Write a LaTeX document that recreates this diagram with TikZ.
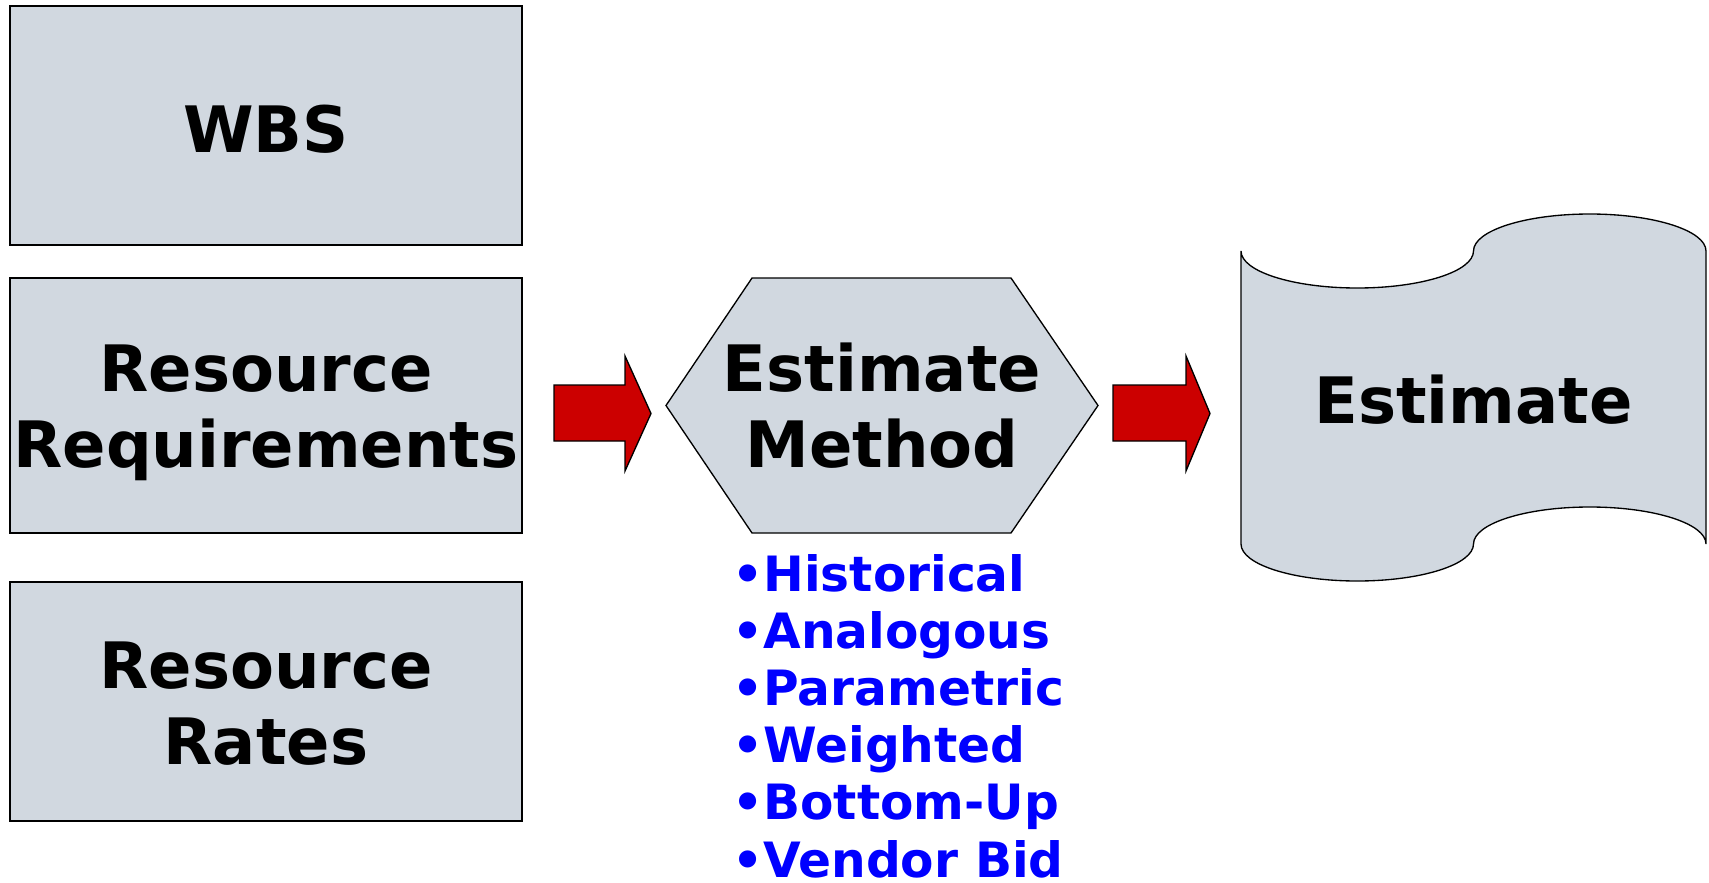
\documentclass[tikz,border=0pt]{standalone}
\usepackage{fontspec}
\setmainfont{DejaVu Sans}
\definecolor{panelfill}{RGB}{209,216,224}
\definecolor{arrowred}{RGB}{204,0,0}
\definecolor{listblue}{RGB}{0,0,255}
\tikzset{
  panel/.style={draw=black, line width=1.5pt, fill=panelfill, inner sep=0pt},
  shapeline/.style={draw=black, line width=1pt, fill=panelfill, line join=miter},
  blockarrow/.style={draw=black, line width=1pt, fill=arrowred, line join=miter},
  caption/.style={inner sep=0pt, align=center, font=\fontsize{48}{57}\selectfont\bfseries},
  methoditem/.style={inner sep=0pt, anchor=base west, text=listblue,
    font=\fontsize{36.5}{43}\selectfont\bfseries}
}
\begin{document}
\begin{tikzpicture}[x=0.75pt,y=-0.75pt]
\path[use as bounding box] (0,0) rectangle (1709,882);

% input boxes
\node[panel, minimum width=384pt, minimum height=179.25pt] (wbs) at (266,125.5) {};
\node[panel, minimum width=384pt, minimum height=191.25pt] (req) at (266,405.5) {};
\node[panel, minimum width=384pt, minimum height=179.25pt] (rates) at (266,701.5) {};
\node[caption] (wbstext) at (266,129) {WBS};
\node[caption] (reqtext) at (266,413) {Resource\\Requirements};
\node[caption] (ratestext) at (266,704) {Resource\\Rates};

% first block arrow
\draw[blockarrow] (554,385) -- (625,385) -- (625,356) -- (651,413.5) -- (625,471) -- (625,441) -- (554,441) -- cycle;

% hexagon for the estimating method
\draw[shapeline] (666,405.5) -- (752,278) -- (1011,278) -- (1098,405.5) -- (1011,533) -- (752,533) -- cycle;
\node[caption] (method) at (882,406) {Estimate\\Method};

% list of methods
\foreach \t [count=\i] in {Historical,Analogous,Parametric,Weighted,Bottom-Up,Vendor Bid}
  \node[methoditem] (m\i) at ({732},{591+(\i-1)*57.2}) {•\t};

% second block arrow
\draw[blockarrow] (1113,385) -- (1186,385) -- (1186,356) -- (1210,413.5) -- (1186,471) -- (1186,441) -- (1113,441) -- cycle;

% punched-tape output shape
\draw[shapeline] (1241,251)
  arc[start angle=180, end angle=0, x radius=116.25, y radius=37]
  arc[start angle=180, end angle=360, x radius=116.25, y radius=37]
  -- (1706,544)
  arc[start angle=0, end angle=-180, x radius=116.25, y radius=37]
  arc[start angle=0, end angle=180, x radius=116.25, y radius=37]
  -- cycle;
\node[caption] (estimate) at (1473.5,400) {Estimate};
\end{tikzpicture}
\end{document}
